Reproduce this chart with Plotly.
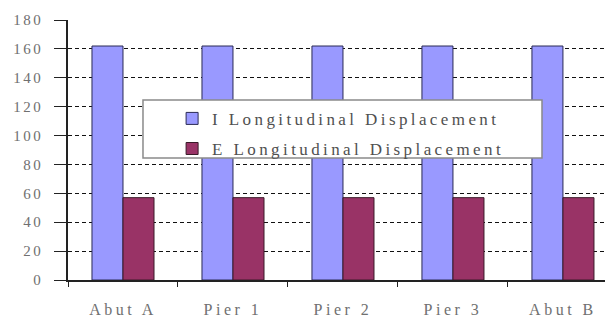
import plotly.graph_objects as go

categories = ["Abut A", "Pier 1", "Pier 2", "Pier 3", "Abut B"]
i_long = [162, 162, 162, 162, 162]
e_long = [57, 57, 57, 57, 57]
series_names = ["I Longitudinal Displacement", "E Longitudinal Displacement"]
y_ticks = [0, 20, 40, 60, 80, 100, 120, 140, 160, 180]

serif = "Liberation Serif, Times New Roman, serif"


def spaced(s, px):
    return "<span style='letter-spacing:%spx'>%s</span>" % (px, s)


fig = go.Figure()
fig.add_trace(go.Bar(x=categories, y=i_long, name=spaced(series_names[0], 3.4),
                     legendgroup="a",
                     marker=dict(color="#9999FF", line=dict(color="#2a2a55", width=1))))
fig.add_trace(go.Bar(x=categories, y=e_long, name=spaced(series_names[1], 3.4),
                     legendgroup="b",
                     marker=dict(color="#993366", line=dict(color="#3a1a28", width=1))))

# legend frame
fig.add_shape(type="rect", xref="paper", yref="paper",
              x0=0.1376, x1=0.8697, y0=0.469, y1=0.692,
              fillcolor="white", line=dict(color="#8a8a8a", width=1.5), layer="above")

fig.update_layout(
    width=605, height=312,
    margin=dict(l=60, r=0, t=12, b=40, autoexpand=False),
    paper_bgcolor="white", plot_bgcolor="white",
    barmode="group", bargap=0.436, bargroupgap=0,
    font=dict(family=serif, color="#666666", size=13),
    showlegend=True,
    legend=dict(
        x=0.191, y=0.689, xanchor="left", yanchor="top",
        bgcolor="rgba(0,0,0,0)", borderwidth=0,
        font=dict(family=serif, size=17, color="#505050"),
        itemwidth=30, tracegroupgap=5,
    ),
)
fig.update_xaxes(
    type="category", range=[-0.5, 4.455],
    categoryorder="array", categoryarray=categories,
    tickvals=categories, ticktext=[spaced(c, 3.5) for c in categories],
    showline=True, linecolor="#222222", linewidth=1.5,
    ticks="outside", tickson="boundaries", ticklen=5, tickcolor="#222222",
    ticklabelstandoff=14,
    showgrid=False, tickfont=dict(family=serif, size=16, color="#707070"),
)
fig.update_yaxes(
    range=[0, 180], tickvals=y_ticks, ticktext=[spaced(str(v), 2.5) for v in y_ticks],
    showline=True, linecolor="#222222", linewidth=1.5,
    ticks="outside", ticklen=12, tickcolor="#222222", ticklabelstandoff=8,
    showgrid=True, gridcolor="#111111", gridwidth=1.3, griddash="4px,3px",
    zeroline=False, tickfont=dict(family=serif, size=15, color="#707070"),
)

fig.write_html("out.html")
